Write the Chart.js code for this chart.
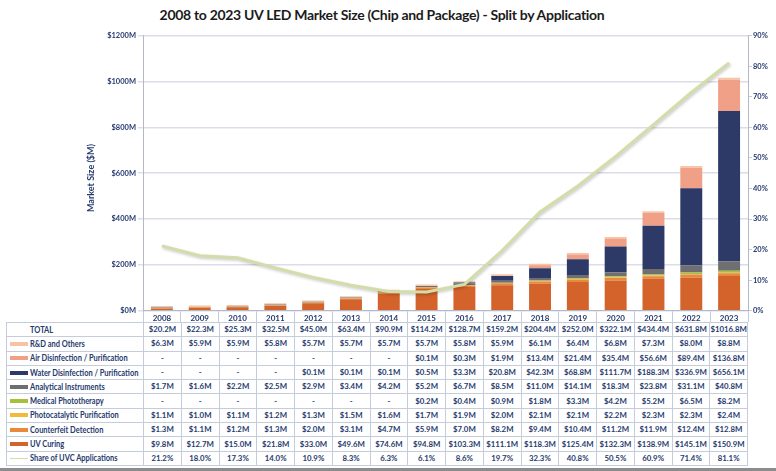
<!DOCTYPE html>
<html><head><meta charset="utf-8">
<script src="https://cdn.jsdelivr.net/npm/chart.js@4"></script>
<style>
body{margin:0;width:776px;height:471px;overflow:hidden;background:#fff;position:relative;}
#title{position:absolute;left:0;top:6px;width:764px;text-align:center;font:bold 14px Lato,sans-serif;letter-spacing:-0.3px;color:#1b1b1b;white-space:nowrap;}
#c{position:absolute;left:0;top:0;}
table{position:absolute;left:6px;top:322px;border-collapse:collapse;table-layout:fixed;width:741px;}
td{border:1px solid #c5cddd;height:13.3px;padding:0;font:bold 7.8px Lato,sans-serif;color:#263a6e;text-align:center;white-space:nowrap;overflow:hidden;line-height:13px;}
td.lab{text-align:left;padding:0;}
td.lab div{height:13.3px;display:flex;align-items:center;padding-left:3px;font-size:9px;line-height:10px;overflow:hidden;}
td.lab .t{display:block;transform:scaleX(0.83);transform-origin:left center;}
.sw{display:block;width:18px;height:4px;margin-right:2px;flex:none;}
#bot{position:absolute;left:0;top:468px;width:776px;height:3px;background:#8c8c8c;}
</style></head><body>
<div id="title">2008 to 2023 UV LED Market Size (Chip and Package) - Split by Application</div>
<canvas id="c" width="776" height="322"></canvas>
<table id="tbl"></table>
<div id="bot"></div>
<script>
const years = ['2008','2009','2010','2011','2012','2013','2014','2015','2016','2017','2018','2019','2020','2021','2022','2023'];
const totals = [20.2,22.3,25.3,32.5,45.0,63.4,90.9,114.2,128.7,159.2,204.4,252.0,322.1,434.4,631.8,1016.8];
const rdOthers = [6.3,5.9,5.9,5.8,5.7,5.7,5.7,5.7,5.8,5.9,6.1,6.4,6.8,7.3,8.0,8.8];
const airDisinfection = [null,null,null,null,null,null,null,0.1,0.3,1.9,13.4,21.4,35.4,56.6,89.4,136.8];
const waterDisinfection = [null,null,null,null,0.1,0.1,0.1,0.5,3.3,20.8,42.3,68.8,111.7,188.3,336.9,656.1];
const analyticalInstruments = [1.7,1.6,2.2,2.5,2.9,3.4,4.2,5.2,6.7,8.5,11.0,14.1,18.3,23.8,31.1,40.8];
const medicalPhototherapy = [null,null,null,null,null,null,null,0.2,0.4,0.9,1.8,3.3,4.2,5.2,6.5,8.2];
const photocatalytic = [1.1,1.0,1.1,1.2,1.3,1.5,1.6,1.7,1.9,2.0,2.1,2.1,2.2,2.3,2.3,2.4];
const counterfeitDetection = [1.3,1.1,1.2,1.3,2.0,3.1,4.7,5.9,7.0,8.2,9.4,10.4,11.2,11.9,12.4,12.8];
const uvCuring = [9.8,12.7,15.0,21.8,33.0,49.6,74.6,94.8,103.3,111.1,118.3,125.4,132.3,138.9,145.1,150.9];
const uvcShare = [21.2,18.0,17.3,14.0,10.9,8.3,6.3,6.1,8.6,19.7,32.3,40.8,50.5,60.9,71.4,81.1];
const yTicks = [0,200,400,600,800,1000,1200];
const y2Ticks = [0,10,20,30,40,50,60,70,80,90];

const navy = '#263a6e';
const series = [
  {label:'R&D and Others', data:rdOthers, color:'#f7c4a3'},
  {label:'Air Disinfection / Purification', data:airDisinfection, color:'#f0a087'},
  {label:'Water Disinfection / Purification', data:waterDisinfection, color:'#2d3a68'},
  {label:'Analytical Instruments', data:analyticalInstruments, color:'#6f6f72'},
  {label:'Medical Phototherapy', data:medicalPhototherapy, color:'#a6c03e'},
  {label:'Photocatalytic Purification', data:photocatalytic, color:'#f0bb3c'},
  {label:'Counterfeit Detection', data:counterfeitDetection, color:'#e8893b'},
  {label:'UV Curing', data:uvCuring, color:'#d3622b'}
];
const lineColor = '#d2dda8';

// table
const fmt = v => v == null ? '-' : '$' + v.toFixed(1) + 'M';
const tbl = document.getElementById('tbl');
let html = '<colgroup><col style="width:137px">' + years.map(()=>'<col style="width:37.75px">').join('') + '</colgroup>';
html += '<tr><td class="lab"><div style="padding-left:23px"><span class="t">TOTAL</span></div></td>' + totals.map(v=>'<td>'+fmt(v)+'</td>').join('') + '</tr>';
series.forEach(s=>{
  html += '<tr><td class="lab"><div><span class="sw" style="background:'+s.color+'"></span><span class="t">'+s.label.replace('&','&amp;')+'</span></div></td>' + s.data.map(v=>'<td>'+fmt(v)+'</td>').join('') + '</tr>';
});
html += '<tr><td class="lab"><div><span class="sw" style="height:1.5px;background:'+lineColor+'"></span><span class="t">Share of UVC Applications</span></div></td>' + uvcShare.map(v=>'<td>'+v.toFixed(1)+'%</td>').join('') + '</tr>';
tbl.innerHTML = html;

const barSets = series.slice().reverse().map(s=>({
  type:'bar', label:s.label, data:s.data, backgroundColor:s.color, stack:'s', yAxisID:'y', order:1,
  categoryPercentage:1.0, barPercentage:0.58, borderWidth:0
}));

const shadowPlugin = {
  id:'shadow',
  beforeDatasetDraw(chart, args){ if(args.index===0){ const c=chart.ctx; c.save(); c.shadowColor='rgba(0,0,0,0.22)'; c.shadowBlur=3; c.shadowOffsetX=1; c.shadowOffsetY=1.5; } },
  afterDatasetDraw(chart, args){ if(args.index===0){ chart.ctx.restore(); } }
};
const ytitlePlugin = {
  id:'ytitle',
  afterDraw(chart){ const c=chart.ctx; c.save(); c.translate(91,178); c.rotate(-Math.PI/2); c.font='bold 9px Lato, sans-serif'; c.fillStyle=navy; c.textAlign='center'; c.textBaseline='middle'; c.fillText('Market Size ($M)',0,0); c.restore(); }
};
const tickFont = {family:'Lato, sans-serif', size:8, weight:'bold'};

new Chart(document.getElementById('c'), {
  type:'bar',
  data:{labels:years, datasets:[
    {type:'line', label:'Share of UVC Applications', data:uvcShare, yAxisID:'y2', borderColor:lineColor, borderWidth:3, pointRadius:0, order:0, tension:0, fill:false},
    ...barSets
  ]},
  options:{
    responsive:false, animation:false,
    layout:{padding:{top:35.7,left:0,right:0,bottom:0}},
    plugins:{legend:{display:false}, tooltip:{enabled:false}, title:{display:false}},
    scales:{
      x:{stacked:true, grid:{offset:true, drawOnChartArea:false, tickLength:12, color:'#c5cddd'}, border:{color:'#b4b8c4'},
         ticks:{padding:-9, font:tickFont, color:navy, autoSkip:false, maxRotation:0},
         afterFit(s){ s.height = 11.3; }},
      y:{stacked:true, min:0, max:1200, afterBuildTicks(s){ s.ticks = yTicks.map(v=>({value:v})); },
         ticks:{callback:v=>'$'+v+'M', font:{family:'Lato, sans-serif', size:7.5, weight:'bold'}, color:navy, padding:2},
         grid:{color:'#dcdde8', lineWidth:1.5, tickLength:5}, border:{color:'#b4b8c4'},
         afterFit(s){ s.width = 143; }},
      y2:{position:'right', min:0, max:90, afterBuildTicks(s){ s.ticks = y2Ticks.map(v=>({value:v})); },
         ticks:{callback:v=>v+'%', font:{family:'Lato, sans-serif', size:7.5, weight:'bold'}, color:navy, padding:1},
         grid:{drawOnChartArea:false, tickLength:4, color:'#c5cddd'}, border:{color:'#b4b8c4'},
         afterFit(s){ s.width = 28; }}
    }
  },
  plugins:[shadowPlugin, ytitlePlugin]
});
</script>
</body></html>
